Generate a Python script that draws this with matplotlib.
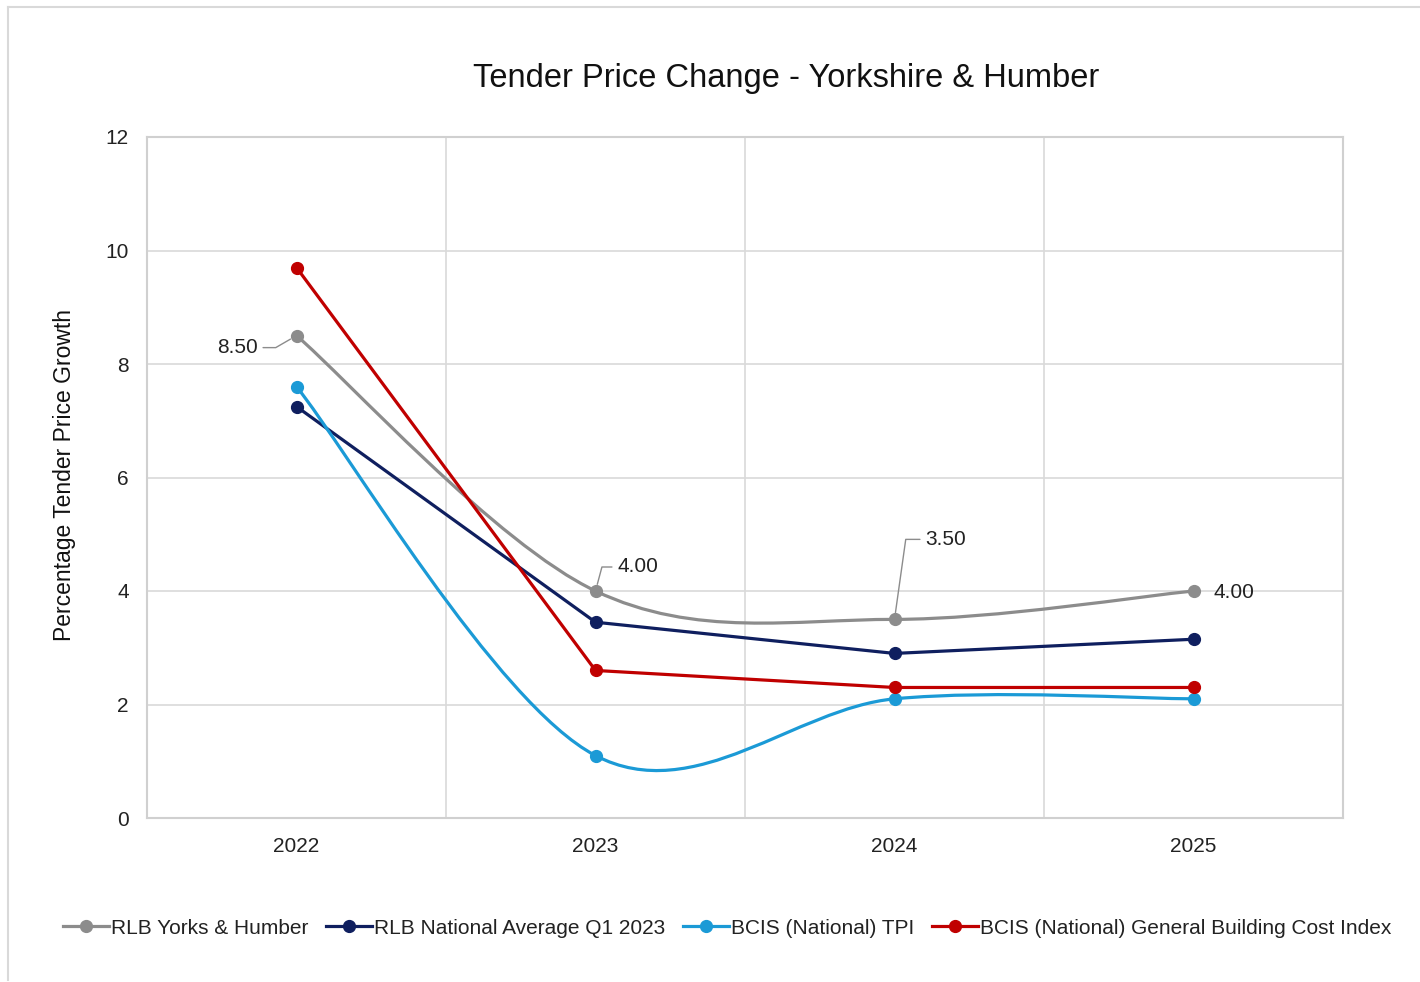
import numpy as np
import matplotlib.pyplot as plt
from matplotlib.path import Path
from matplotlib.patches import PathPatch
from matplotlib.lines import Line2D

years = ['2022', '2023', '2024', '2025']
rlb_yorks = [8.5, 4.0, 3.5, 4.0]
rlb_national = [7.25, 3.45, 2.9, 3.15]
bcis_tpi = [7.6, 1.1, 2.1, 2.1]
bcis_cost = [9.7, 2.6, 2.3, 2.3]
labels = ['RLB Yorks & Humber', 'RLB National Average Q1 2023',
          'BCIS (National) TPI', 'BCIS (National) General Building Cost Index']

plt.rcParams['font.family'] = ['Liberation Sans', 'DejaVu Sans']

fig = plt.figure(figsize=(14.2, 9.82), dpi=100)
ax = fig.add_axes([147/1420, 1-818/982, (1343-147)/1420, (818-137)/982])

# light frame round the chart
fig.add_artist(Line2D([8/1420, 8/1420], [2/982, 1-7/982], transform=fig.transFigure, color='#d9d9d9', lw=1.5))
fig.add_artist(Line2D([8/1420, 1], [1-7/982, 1-7/982], transform=fig.transFigure, color='#d9d9d9', lw=1.5))


def smooth_path(xs, ys):
    # excel style smoothed line (catmull-rom as cubic bezier)
    pts = np.column_stack([xs, ys]).astype(float)
    ext = np.vstack([pts[0], pts, pts[-1]])
    verts = [pts[0]]
    codes = [Path.MOVETO]
    for i in range(len(pts) - 1):
        p0, p1, p2, p3 = ext[i], ext[i+1], ext[i+2], ext[i+3]
        verts += [p1 + (p2 - p0) / 6, p2 - (p3 - p1) / 6, p2]
        codes += [Path.CURVE4] * 3
    return Path(verts, codes)


x = np.arange(len(years))
series = [
    (rlb_yorks, '#8c8c8c', True),
    (rlb_national, '#0f1f5f', False),
    (bcis_tpi, '#1b9ad6', True),
    (bcis_cost, '#c00000', False),
]
handles = []
for (vals, col, smooth), lab in zip(series, labels):
    if smooth:
        ax.add_patch(PathPatch(smooth_path(x, vals), fc='none', ec=col, lw=2.3, capstyle='round', zorder=3))
        ax.plot(x, vals, 'o', color=col, ms=8.5, zorder=4)
    else:
        ax.plot(x, vals, '-', color=col, lw=2.3, zorder=3)
        ax.plot(x, vals, 'o', color=col, ms=8.5, zorder=4)
    handles.append(Line2D([], [], color=col, lw=2.3, marker='o', ms=8.5, label=lab))

ax.set_xlim(-0.5, 3.5)
ax.set_ylim(0, 12)
ax.set_yticks(range(0, 13, 2))
ax.set_xticks(x)
ax.set_xticklabels(years)
ax.set_xticks([0.5, 1.5, 2.5], minor=True)
ax.grid(True, axis='y', color='#d9d9d9', lw=1.2)
ax.grid(True, axis='x', which='minor', color='#d9d9d9', lw=1.2)
ax.set_axisbelow(True)
for s in ax.spines.values():
    s.set_color('#d0d0d0')
    s.set_linewidth(1.5)
ax.tick_params(axis='both', which='both', length=0, labelsize=15, colors='#222222')
ax.tick_params(axis='y', pad=13)
ax.tick_params(axis='x', pad=14)

# data labels on the grey series
lead = dict(arrowstyle='-', color='#8c8c8c', lw=1.0, shrinkA=2, shrinkB=5)
ax.annotate('8.50', (0, rlb_yorks[0]), xytext=(-39, -12), textcoords='offset pixels',
            ha='right', va='center', fontsize=15, color='#222222',
            arrowprops=dict(lead, relpos=(1, 0.5), connectionstyle='angle,angleA=0,angleB=30,rad=0'))
ax.annotate('4.00', (1, rlb_yorks[1]), xytext=(22, 24), textcoords='offset pixels',
            ha='left', va='center', fontsize=15, color='#222222',
            arrowprops=dict(lead, relpos=(0, 0.5), connectionstyle='angle,angleA=0,angleB=75,rad=0'))
ax.annotate('3.50', (2, rlb_yorks[2]), xytext=(31, 80), textcoords='offset pixels',
            ha='left', va='center', fontsize=15, color='#222222',
            arrowprops=dict(lead, relpos=(0, 0.5), connectionstyle='angle,angleA=0,angleB=82,rad=0'))
ax.annotate('4.00', (3, rlb_yorks[3]), xytext=(20, -1), textcoords='offset pixels',
            ha='left', va='center', fontsize=15, color='#222222')

fig.text(786/1420, 1-79/982, 'Tender Price Change - Yorkshire & Humber', ha='center', va='center',
         fontsize=23.5, color='#111111')
fig.text(65/1420, 1-475/982, 'Percentage Tender Price Growth', rotation=90, ha='center', va='center',
         fontsize=16.5, color='#111111')

fig.legend(handles=handles, loc='center', bbox_to_anchor=(727/1420, 1-928/982), ncol=4, frameon=False,
           fontsize=15, handlelength=2.2, handletextpad=0.1, columnspacing=0.85, labelcolor='#222222')

fig.savefig('out.png', dpi=100, facecolor='white')
